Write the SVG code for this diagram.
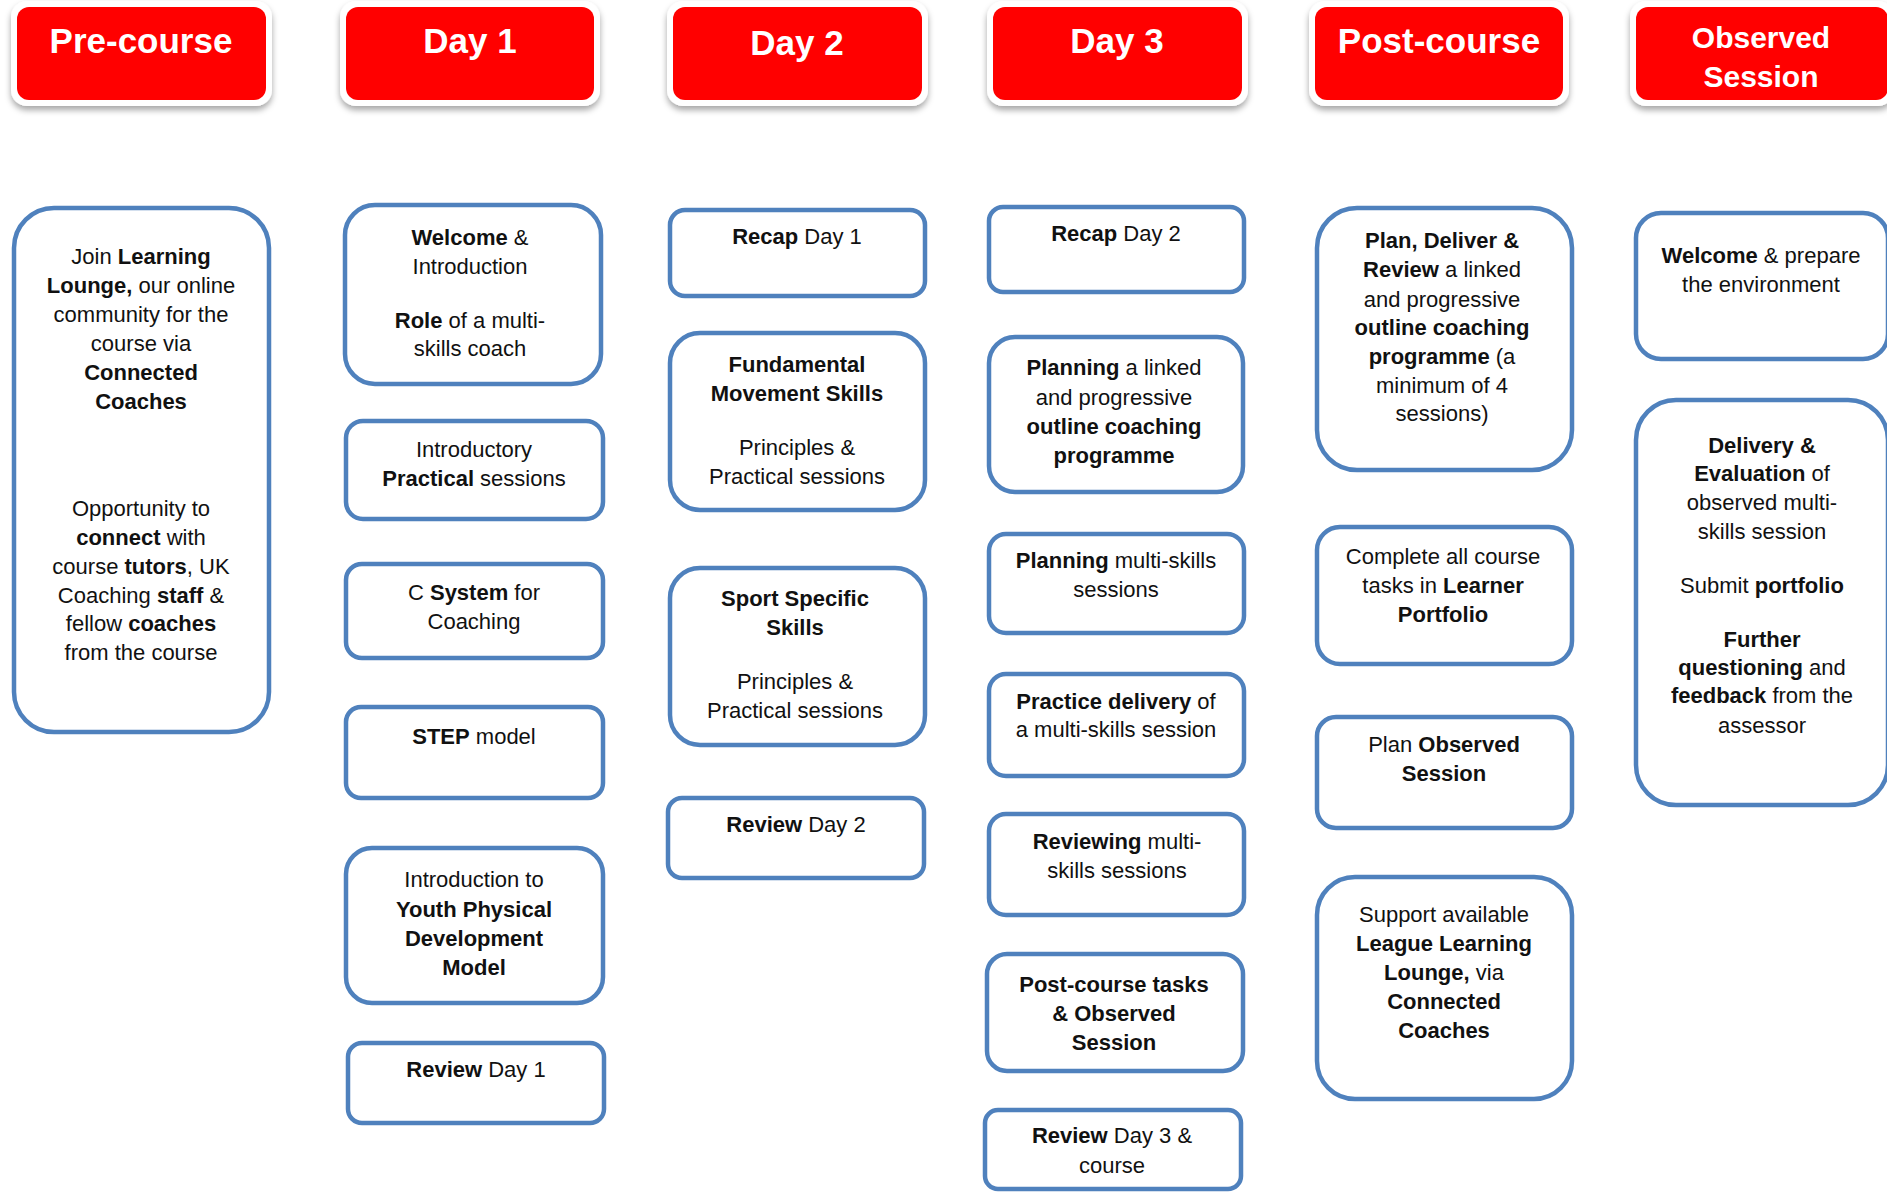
<svg xmlns="http://www.w3.org/2000/svg" width="1887" height="1192" viewBox="0 0 1887 1192">
<defs>
<filter id="sh" x="-10%" y="-20%" width="120%" height="150%">
<feDropShadow dx="0" dy="4" stdDeviation="3" flood-color="#000" flood-opacity="0.35"/>
</filter>
</defs>
<style>
.hout{fill:#fff;filter:url(#sh)}
.hred{fill:#ff0000}
.ht{font-family:"Liberation Sans",Arial,sans-serif;font-weight:bold;font-size:35px;fill:#fff;text-anchor:middle}
.ht2{font-size:30px}
.box{fill:#fff;stroke:#4f81bd;stroke-width:4.5}
.t{font-family:"Liberation Sans",Arial,sans-serif;font-size:22px;fill:#111;text-anchor:middle}
.b{font-weight:bold}
</style>
<rect width="1887" height="1192" fill="#fff"/>

<g id="header-precourse">
<rect class="hout" x="11" y="1" width="261" height="105" rx="16"/>
<rect class="hred" x="17" y="7" width="249" height="93" rx="12"/>
<text class="ht" x="141" y="53">Pre-course</text>
</g>
<g id="header-day1">
<rect class="hout" x="340" y="1" width="260" height="105" rx="16"/>
<rect class="hred" x="346" y="7" width="248" height="93" rx="12"/>
<text class="ht" x="470" y="53">Day 1</text>
</g>
<g id="header-day2">
<rect class="hout" x="667" y="1" width="261" height="105" rx="16"/>
<rect class="hred" x="673" y="7" width="249" height="93" rx="12"/>
<text class="ht" x="797" y="55">Day 2</text>
</g>
<g id="header-day3">
<rect class="hout" x="987" y="1" width="261" height="105" rx="16"/>
<rect class="hred" x="993" y="7" width="249" height="93" rx="12"/>
<text class="ht" x="1117" y="53">Day 3</text>
</g>
<g id="header-postcourse">
<rect class="hout" x="1309" y="1" width="260" height="105" rx="16"/>
<rect class="hred" x="1315" y="7" width="248" height="93" rx="12"/>
<text class="ht" x="1439" y="53">Post-course</text>
</g>
<g id="header-observed">
<rect class="hout" x="1630" y="1" width="264" height="105" rx="16"/>
<rect class="hred" x="1636" y="7" width="252" height="93" rx="12"/>
<text class="ht ht2" x="1761" y="48">Observed</text>
<text class="ht ht2" x="1761" y="87">Session</text>
</g>

<g id="connectors"></g>

<g id="pre-1">
<rect class="box" x="14" y="208" width="255" height="524" rx="40"/>
<text class="t" x="141" y="264">Join <tspan class="b">Learning</tspan></text>
<text class="t" x="141" y="293"><tspan class="b">Lounge,</tspan> our online</text>
<text class="t" x="141" y="322">community for the</text>
<text class="t" x="141" y="351">course via</text>
<text class="t b" x="141" y="380">Connected</text>
<text class="t b" x="141" y="409">Coaches</text>
<text class="t" x="141" y="516">Opportunity to</text>
<text class="t" x="141" y="545"><tspan class="b">connect</tspan> with</text>
<text class="t" x="141" y="574">course <tspan class="b">tutors</tspan>, UK</text>
<text class="t" x="141" y="603">Coaching <tspan class="b">staff</tspan> &amp;</text>
<text class="t" x="141" y="631">fellow <tspan class="b">coaches</tspan></text>
<text class="t" x="141" y="660">from the course</text>
</g>

<g id="day1-1">
<rect class="box" x="345" y="205" width="256" height="179" rx="30"/>
<text class="t" x="470" y="245"><tspan class="b">Welcome</tspan> &amp;</text>
<text class="t" x="470" y="274">Introduction</text>
<text class="t" x="470" y="328"><tspan class="b">Role</tspan> of a multi-</text>
<text class="t" x="470" y="356">skills coach</text>
</g>
<g id="day1-2">
<rect class="box" x="346" y="421" width="257" height="98" rx="17"/>
<text class="t" x="474" y="457">Introductory</text>
<text class="t" x="474" y="486"><tspan class="b">Practical</tspan> sessions</text>
</g>
<g id="day1-3">
<rect class="box" x="346" y="564" width="257" height="94" rx="16"/>
<text class="t" x="474" y="600">C <tspan class="b">System</tspan> for</text>
<text class="t" x="474" y="629">Coaching</text>
</g>
<g id="day1-4">
<rect class="box" x="346" y="707" width="257" height="91" rx="15"/>
<text class="t" x="474" y="744"><tspan class="b">STEP</tspan> model</text>
</g>
<g id="day1-5">
<rect class="box" x="346" y="848" width="257" height="155" rx="26"/>
<text class="t" x="474" y="887">Introduction to</text>
<text class="t b" x="474" y="917">Youth Physical</text>
<text class="t b" x="474" y="946">Development</text>
<text class="t b" x="474" y="975">Model</text>
</g>
<g id="day1-6">
<rect class="box" x="348" y="1043" width="256" height="80" rx="14"/>
<text class="t" x="476" y="1077"><tspan class="b">Review</tspan> Day 1</text>
</g>

<g id="day2-1">
<rect class="box" x="670" y="210" width="255" height="86" rx="15"/>
<text class="t" x="797" y="244"><tspan class="b">Recap</tspan> Day 1</text>
</g>
<g id="day2-2">
<rect class="box" x="670" y="333" width="255" height="177" rx="30"/>
<text class="t b" x="797" y="372">Fundamental</text>
<text class="t b" x="797" y="401">Movement Skills</text>
<text class="t" x="797" y="455">Principles &amp;</text>
<text class="t" x="797" y="484">Practical sessions</text>
</g>
<g id="day2-3">
<rect class="box" x="670" y="568" width="255" height="177" rx="30"/>
<text class="t b" x="795" y="606">Sport Specific</text>
<text class="t b" x="795" y="635">Skills</text>
<text class="t" x="795" y="689">Principles &amp;</text>
<text class="t" x="795" y="718">Practical sessions</text>
</g>
<g id="day2-4">
<rect class="box" x="668" y="798" width="256" height="80" rx="14"/>
<text class="t" x="796" y="832"><tspan class="b">Review</tspan> Day 2</text>
</g>

<g id="day3-1">
<rect class="box" x="989" y="207" width="255" height="85" rx="14"/>
<text class="t" x="1116" y="241"><tspan class="b">Recap</tspan> Day 2</text>
</g>
<g id="day3-2">
<rect class="box" x="989" y="337" width="254" height="155" rx="26"/>
<text class="t" x="1114" y="375"><tspan class="b">Planning</tspan> a linked</text>
<text class="t" x="1114" y="405">and progressive</text>
<text class="t b" x="1114" y="434">outline coaching</text>
<text class="t b" x="1114" y="463">programme</text>
</g>
<g id="day3-3">
<rect class="box" x="989" y="534" width="255" height="99" rx="17"/>
<text class="t" x="1116" y="568"><tspan class="b">Planning</tspan> multi-skills</text>
<text class="t" x="1116" y="597">sessions</text>
</g>
<g id="day3-4">
<rect class="box" x="989" y="674" width="255" height="102" rx="17"/>
<text class="t" x="1116" y="709"><tspan class="b">Practice delivery</tspan> of</text>
<text class="t" x="1116" y="737">a multi-skills session</text>
</g>
<g id="day3-5">
<rect class="box" x="989" y="814" width="255" height="101" rx="17"/>
<text class="t" x="1117" y="849"><tspan class="b">Reviewing</tspan> multi-</text>
<text class="t" x="1117" y="878">skills sessions</text>
</g>
<g id="day3-6">
<rect class="box" x="987" y="954" width="256" height="117" rx="20"/>
<text class="t b" x="1114" y="992">Post-course tasks</text>
<text class="t b" x="1114" y="1021">&amp; Observed</text>
<text class="t b" x="1114" y="1050">Session</text>
</g>
<g id="day3-7">
<rect class="box" x="985" y="1110" width="256" height="79" rx="13"/>
<text class="t" x="1112" y="1143"><tspan class="b">Review</tspan> Day 3 &amp;</text>
<text class="t" x="1112" y="1173">course</text>
</g>

<g id="post-1">
<rect class="box" x="1317" y="208" width="255" height="262" rx="40"/>
<text class="t b" x="1442" y="248">Plan, Deliver &amp;</text>
<text class="t" x="1442" y="277"><tspan class="b">Review</tspan> a linked</text>
<text class="t" x="1442" y="307">and progressive</text>
<text class="t b" x="1442" y="335">outline coaching</text>
<text class="t" x="1442" y="364"><tspan class="b">programme</tspan> (a</text>
<text class="t" x="1442" y="393">minimum of 4</text>
<text class="t" x="1442" y="421">sessions)</text>
</g>
<g id="post-2">
<rect class="box" x="1317" y="527" width="255" height="137" rx="23"/>
<text class="t" x="1443" y="564">Complete all course</text>
<text class="t" x="1443" y="593">tasks in <tspan class="b">Learner</tspan></text>
<text class="t b" x="1443" y="622">Portfolio</text>
</g>
<g id="post-3">
<rect class="box" x="1317" y="717" width="255" height="111" rx="19"/>
<text class="t" x="1444" y="752">Plan <tspan class="b">Observed</tspan></text>
<text class="t b" x="1444" y="781">Session</text>
</g>
<g id="post-4">
<rect class="box" x="1317" y="877" width="255" height="222" rx="38"/>
<text class="t" x="1444" y="922">Support available</text>
<text class="t b" x="1444" y="951">League Learning</text>
<text class="t" x="1444" y="980"><tspan class="b">Lounge,</tspan> via</text>
<text class="t b" x="1444" y="1009">Connected</text>
<text class="t b" x="1444" y="1038">Coaches</text>
</g>

<g id="obs-1">
<rect class="box" x="1636" y="213" width="252" height="146" rx="25"/>
<text class="t" x="1761" y="263"><tspan class="b">Welcome</tspan> &amp; prepare</text>
<text class="t" x="1761" y="292">the environment</text>
</g>
<g id="obs-2">
<rect class="box" x="1636" y="400" width="252" height="405" rx="40"/>
<text class="t b" x="1762" y="453">Delivery &amp;</text>
<text class="t" x="1762" y="481"><tspan class="b">Evaluation</tspan> of</text>
<text class="t" x="1762" y="510">observed multi-</text>
<text class="t" x="1762" y="539">skills session</text>
<text class="t" x="1762" y="593">Submit <tspan class="b">portfolio</tspan></text>
<text class="t b" x="1762" y="647">Further</text>
<text class="t" x="1762" y="675"><tspan class="b">questioning</tspan> and</text>
<text class="t" x="1762" y="703"><tspan class="b">feedback</tspan> from the</text>
<text class="t" x="1762" y="733">assessor</text>
</g>
</svg>
